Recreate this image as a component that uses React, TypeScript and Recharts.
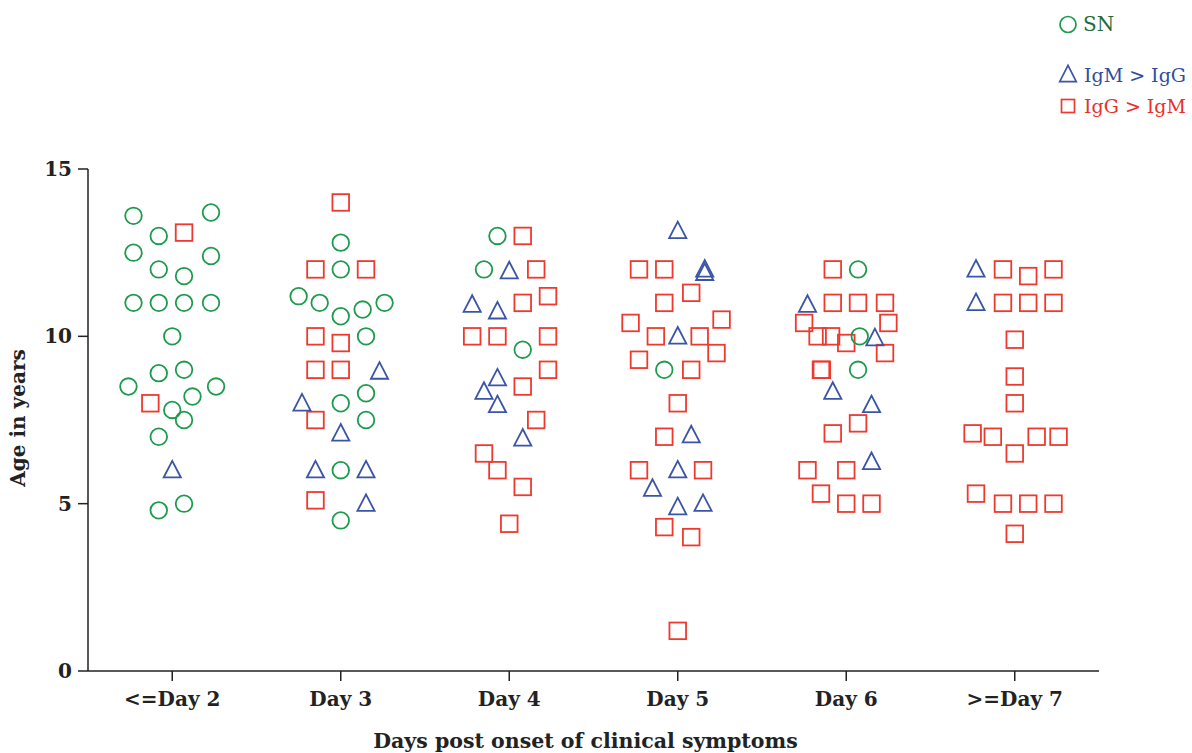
import React from 'react';
import { ScatterChart, Scatter, XAxis, YAxis } from 'recharts';

// x = day group (1..6) plus a small horizontal jitter, y = age in years
const dayLabels = ['<=Day 2', 'Day 3', 'Day 4', 'Day 5', 'Day 6', '>=Day 7'];
const dayTicks = [1, 2, 3, 4, 5, 6];
const ageTicks = [0, 5, 10, 15];

const snPoints: [number, number][] = [
  [0.77, 13.6], [0.92, 13.0], [1.23, 13.7], [0.77, 12.5], [0.92, 12.0], [1.07, 11.8], [1.23, 12.4],
  [0.77, 11.0], [0.92, 11.0], [1.07, 11.0], [1.23, 11.0], [1.0, 10.0], [0.92, 8.9], [1.07, 9.0],
  [0.74, 8.5], [1.26, 8.5], [1.12, 8.2], [1.0, 7.8], [1.07, 7.5], [0.92, 7.0], [0.92, 4.8], [1.07, 5.0],
  [2.0, 12.8], [2.0, 12.0], [1.75, 11.2], [1.875, 11.0], [2.0, 10.6], [2.13, 10.8], [2.26, 11.0],
  [2.15, 10.0], [2.15, 8.3], [2.0, 8.0], [2.15, 7.5], [2.0, 6.0], [2.0, 4.5],
  [2.93, 13.0], [2.85, 12.0], [3.08, 9.6],
  [3.92, 9.0],
  [5.07, 12.0], [5.08, 10.0], [5.07, 9.0],
];

const igmPoints: [number, number][] = [
  [1.0, 5.95],
  [2.23, 8.9], [1.77, 7.95], [2.0, 7.05], [1.85, 5.95], [2.15, 5.95], [2.15, 4.95],
  [3.0, 11.9], [2.78, 10.9], [2.93, 10.7], [2.93, 8.7], [2.85, 8.3], [2.93, 7.9], [3.08, 6.9],
  [4.0, 13.1], [4.16, 11.95], [4.16, 11.85], [4.0, 9.95], [4.08, 7.0], [4.0, 5.95], [3.85, 5.4],
  [4.0, 4.85], [4.15, 4.95],
  [4.77, 10.9], [5.17, 9.9], [4.92, 8.3], [5.15, 7.9], [5.15, 6.2],
  [5.77, 11.95], [5.77, 10.95],
];

const iggPoints: [number, number][] = [
  [1.07, 13.1], [0.87, 8.0],
  [2.0, 14.0], [1.85, 12.0], [2.15, 12.0], [1.85, 10.0], [2.0, 9.8], [1.85, 9.0], [2.0, 9.0],
  [1.85, 7.5], [1.85, 5.1],
  [3.08, 13.0], [3.16, 12.0], [3.08, 11.0], [3.23, 11.2], [2.78, 10.0], [2.93, 10.0], [3.23, 10.0],
  [3.23, 9.0], [3.08, 8.5], [3.16, 7.5], [2.85, 6.5], [2.93, 6.0], [3.08, 5.5], [3.0, 4.4],
  [3.77, 12.0], [3.92, 12.0], [4.08, 11.3], [3.92, 11.0], [3.72, 10.4], [4.26, 10.5], [3.87, 10.0],
  [4.13, 10.0], [4.23, 9.5], [3.77, 9.3], [4.08, 9.0], [4.0, 8.0], [3.92, 7.0], [3.77, 6.0],
  [4.15, 6.0], [3.92, 4.3], [4.08, 4.0], [4.0, 1.2],
  [4.92, 12.0], [4.92, 11.0], [5.07, 11.0], [5.23, 11.0], [4.75, 10.4], [5.25, 10.4], [4.83, 10.0],
  [4.91, 10.0], [5.0, 9.8], [5.23, 9.5], [4.85, 9.0], [4.855, 9.0], [5.07, 7.4], [4.92, 7.1],
  [4.77, 6.0], [5.0, 6.0], [4.85, 5.3], [5.0, 5.0], [5.15, 5.0],
  [5.93, 12.0], [6.08, 11.8], [6.23, 12.0], [5.93, 11.0], [6.08, 11.0], [6.23, 11.0], [6.0, 9.9],
  [6.0, 8.8], [6.0, 8.0], [5.75, 7.1], [5.87, 7.0], [6.0, 6.5], [6.13, 7.0], [6.26, 7.0],
  [5.77, 5.3], [5.93, 5.0], [6.08, 5.0], [6.23, 5.0], [6.0, 4.1],
];

const GREEN = '#1d9a4c';
const BLUE = '#3a55a5';
const RED = '#ee3a2e';
const FONT = '"DejaVu Serif", serif';

const toRows = (pts: [number, number][]) => pts.map(([x, y]) => ({ x, y }));

const CircleMark = (p: any) => (
  <circle cx={p.cx} cy={p.cy} r={8.3} fill="none" stroke={GREEN} strokeWidth={1.8} />
);
const SquareMark = (p: any) => (
  <rect x={p.cx - 8.3} y={p.cy - 8.3} width={16.6} height={16.6} fill="none" stroke={RED} strokeWidth={1.8} />
);
const TriangleMark = (p: any) => (
  <polygon
    points={`${p.cx},${p.cy - 11} ${p.cx - 8.6},${p.cy + 5.6} ${p.cx + 8.6},${p.cy + 5.6}`}
    fill="none"
    stroke={BLUE}
    strokeWidth={1.8}
  />
);

const tickStyle = { fill: '#222', fontSize: 20, fontWeight: 'bold', fontFamily: FONT };

const LegendBox = () => (
  <svg width={142} height={130} style={{ position: 'absolute', left: 1050, top: 0 }}>
    <circle cx={18} cy={24.5} r={8} fill="none" stroke={GREEN} strokeWidth={1.7} />
    <text x={33} y={31} fontSize={20} fontFamily={FONT} fill="#1e6b3c">SN</text>
    <polygon points="18,65.3 9.7,81.7 26.3,81.7" fill="none" stroke={BLUE} strokeWidth={1.7} />
    <text x={34} y={82} fontSize={19} fontFamily={FONT} fill="#2e4ea0">IgM &gt; IgG</text>
    <rect x={11.5} y={99.5} width={13} height={13} fill="none" stroke={RED} strokeWidth={1.7} />
    <text x={34} y={113} fontSize={19} fontFamily={FONT} fill="#e8312a">IgG &gt; IgM</text>
  </svg>
);

export default function App() {
  return (
    <div style={{ position: 'absolute', left: 0, top: 0, width: 1192, height: 753, background: '#fff' }}>
      <ScatterChart width={1192} height={753} margin={{ top: 169, right: 93, bottom: 0, left: 0 }}>
        <XAxis
          type="number"
          dataKey="x"
          domain={[0.5, 6.5]}
          ticks={dayTicks}
          tickFormatter={(v: number) => dayLabels[v - 1]}
          height={82}
          tickSize={10}
          tickMargin={11}
          stroke="#222"
          strokeWidth={1.5}
          tick={tickStyle}
          allowDataOverflow
          label={{
            value: 'Days post onset of clinical symptoms',
            position: 'insideBottom',
            offset: 5,
            dx: -8,
            style: { fill: '#222', fontSize: 20.5, fontWeight: 'bold', fontFamily: FONT },
          }}
        />
        <YAxis
          type="number"
          dataKey="y"
          domain={[0, 15]}
          ticks={ageTicks}
          width={88}
          tickSize={10}
          tickMargin={6}
          stroke="#222"
          strokeWidth={1.5}
          tick={tickStyle}
          label={{
            value: 'Age in years',
            angle: -90,
            position: 'insideLeft',
            offset: 18,
            dy: -2,
            style: { fill: '#222', fontSize: 20, fontWeight: 'bold', fontFamily: FONT, textAnchor: 'middle' },
          }}
        />
        <Scatter name="IgG > IgM" data={toRows(iggPoints)} shape={SquareMark} isAnimationActive={false} />
        <Scatter name="IgM > IgG" data={toRows(igmPoints)} shape={TriangleMark} isAnimationActive={false} />
        <Scatter name="SN" data={toRows(snPoints)} shape={CircleMark} isAnimationActive={false} />
      </ScatterChart>
      <LegendBox />
    </div>
  );
}
